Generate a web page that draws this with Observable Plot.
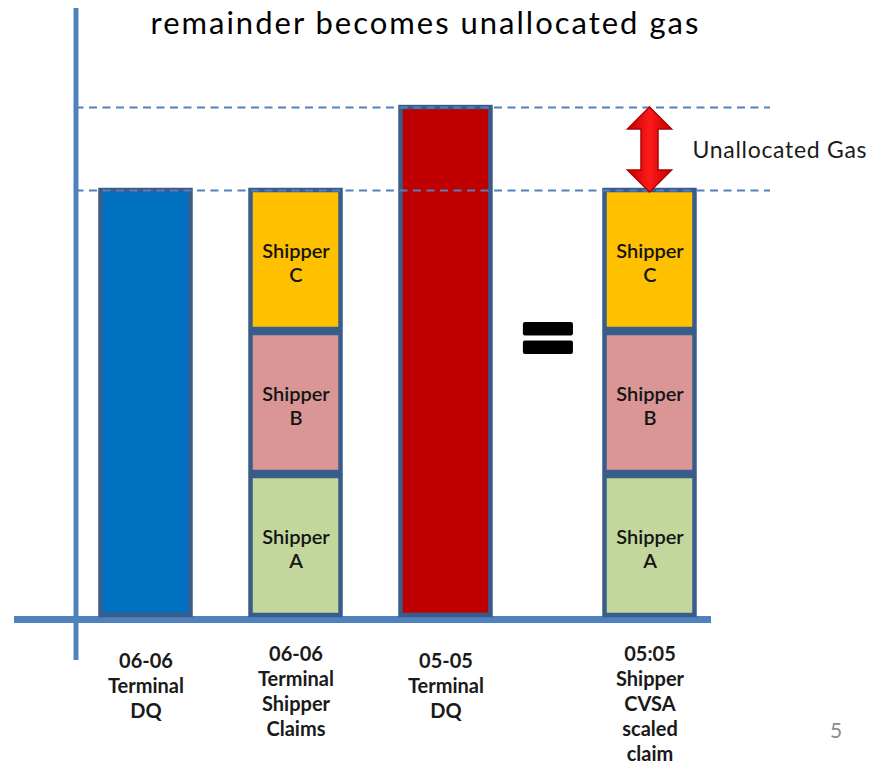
<!DOCTYPE html>
<html>
<head>
<meta charset="utf-8">
<script src="https://cdn.jsdelivr.net/npm/d3@7"></script>
<script src="https://cdn.jsdelivr.net/npm/@observablehq/plot@0.6"></script>
<style>
  body { margin: 0; background: #fff; font-family: Lato, "Open Sans", sans-serif; }
  #wrap { position: relative; width: 878px; height: 764px; overflow: hidden; }
  #wrap svg { position: absolute; left: 0; top: 0; }
  #page { position: absolute; left: 830px; top: 719px; font-size: 21px; line-height: 1; color: #8c8c8c; font-family: Lato, sans-serif; }
</style>
</head>
<body>
<div id="wrap"><div id="page">5</div></div>
<script>
// ---------------- data ----------------
const titleText = "remainder becomes unallocated gas";
const categories = [
  "06-06 Terminal DQ",
  "06-06 Terminal Shipper Claims",
  "05-05 Terminal DQ",
  "05:05 Shipper CVSA scaled claim"
];
const shippers = ["Shipper A", "Shipper B", "Shipper C"];
const terminalDQ0606 = 300;                // bar 1
const shipperClaims0606 = [100, 100, 100]; // bar 2 (A, B, C)
const terminalDQ0505 = 358;                // bar 3
const scaledClaims0505 = [100, 100, 100];  // bar 4 (A, B, C)
const annotationText = "Unallocated Gas";
const equalsText = "=";

// ---------------- styles / layout ----------------
const colDQ0606 = "#0070C0";
const colDQ0505 = "#C00000";
const shipperColors = ["#C3D69B", "#D99694", "#FFC000"];
const outline = "#385D8A";
const axisColor = "#4F81BD";

const W = 878, H = 764;
const mTop = 8, mBottom = 104, mLeft = 14, mRight = 167;
const pxPerSlot = 150, firstBarPx = 145.5;
const pxPerUnit = 1.43, zeroPx = 619;
const gapExtra = 0.36;                // extra room for the "=" sign
const slotOf = i => i + (i === 3 ? gapExtra : 0);
const halfW = 0.3;
const yAxisSlot = (75.5 - firstBarPx) / pxPerSlot;
const dashEndSlot = (770 - firstBarPx) / pxPerSlot;

const xDomain = [(mLeft - firstBarPx) / pxPerSlot, (W - mRight - firstBarPx) / pxPerSlot];
const yDomain = [(zeroPx - (H - mBottom)) / pxPerUnit, (zeroPx - mTop) / pxPerUnit];

// ---------------- build rows ----------------
const rows = [];
rows.push({slot: slotOf(0), y1: 0, y2: terminalDQ0606, fill: colDQ0606});
function pushStack(i, vals) {
  const cum = d3.cumsum(vals);
  vals.forEach((v, k) => rows.push({
    slot: slotOf(i), y1: cum[k] - v, y2: cum[k], fill: shipperColors[k],
    label: shippers[k].replace(" ", "\n")
  }));
}
pushStack(1, shipperClaims0606);
rows.push({slot: slotOf(2), y1: 0, y2: terminalDQ0505, fill: colDQ0505});
pushStack(3, scaledClaims0505);

const catRows = categories.map((c, i) => ({slot: slotOf(i), text: c.split(" ").join("\n"), n: c.split(" ").length}));

// double arrow for unallocated gas, drawn through Plot's scales
function doubleArrow(index, scales) {
  const cx = scales.x(slotOf(3));
  const yt = scales.y(terminalDQ0505);
  const yb = scales.y(d3.sum(scaledClaims0505)) + 2;
  const hw = 22, hh = 22, sw = 8.5;
  const p = `M${cx},${yt} L${cx + hw},${yt + hh} L${cx + sw},${yt + hh} L${cx + sw},${yb - hh} L${cx + hw},${yb - hh} L${cx},${yb} L${cx - hw},${yb - hh} L${cx - sw},${yb - hh} L${cx - sw},${yt + hh} L${cx - hw},${yt + hh} Z`;
  const g = d3.create("svg:g");
  const grad = g.append("defs").append("linearGradient").attr("id", "arrowGrad")
    .attr("x1", "0").attr("x2", "1").attr("y1", "0").attr("y2", "0");
  grad.append("stop").attr("offset", "0%").attr("stop-color", "#C00000");
  grad.append("stop").attr("offset", "50%").attr("stop-color", "#FF1A1A");
  grad.append("stop").attr("offset", "100%").attr("stop-color", "#C00000");
  g.append("path").attr("d", p).attr("fill", "url(#arrowGrad)")
    .attr("stroke", "#B00000").attr("stroke-width", 1.5).attr("stroke-linejoin", "miter");
  return g.node();
}

const chart = Plot.plot({
  width: W, height: H,
  marginTop: mTop, marginBottom: mBottom, marginLeft: mLeft, marginRight: mRight,
  style: {fontFamily: "Lato, 'Open Sans', sans-serif", background: "transparent", overflow: "visible"},
  x: {type: "linear", domain: xDomain, axis: null},
  y: {type: "linear", domain: yDomain, axis: null},
  color: {type: "identity"},
  marks: [
    // axes
    Plot.ruleX([yAxisSlot], {stroke: axisColor, strokeWidth: 5}),
    Plot.ruleY([0], {stroke: axisColor, strokeWidth: 7}),
    // bars
    Plot.rect(rows, {
      x1: d => d.slot - halfW, x2: d => d.slot + halfW, y1: "y1", y2: "y2",
      fill: "fill", stroke: outline, strokeWidth: 4.5, insetBottom: 4
    }),
    // segment labels
    Plot.text(rows.filter(d => d.label), {
      x: "slot", y: d => (d.y1 + d.y2) / 2, text: "label",
      fontSize: 20, fontWeight: 600, lineHeight: 1.2, fill: "#141414"
    }),
    // dashed guide lines
    Plot.ruleY([terminalDQ0606, terminalDQ0505], {
      x1: yAxisSlot, x2: dashEndSlot, stroke: axisColor, strokeWidth: 2, strokeDasharray: "8,5.5"
    }),
    // arrow
    doubleArrow,
    // annotation
    Plot.text([{s: slotOf(3), v: (terminalDQ0505 + d3.sum(scaledClaims0505)) / 2}], {
      x: "s", y: "v", text: () => annotationText, textAnchor: "start", dx: 42.5, dy: 2,
      fontSize: 23, fill: "#1a1a1a"
    }),
    // equals sign
    Plot.text([{s: (slotOf(2) + slotOf(3)) / 2}], {
      x: "s", frameAnchor: "middle", text: () => equalsText, fontSize: 104, fontWeight: "bold",
      fill: "#000", stroke: "#000", strokeWidth: 4, strokeLinejoin: "round", dy: 5
    }),
    // category labels
    Plot.text(catRows.filter(d => d.n <= 3), {
      x: "slot", y: () => 0, text: "text", lineAnchor: "top", dy: 31,
      fontSize: 20, fontWeight: "bold", lineHeight: 25 / 20, fill: "#1a1a1a"
    }),
    Plot.text(catRows.filter(d => d.n > 3), {
      x: "slot", y: () => 0, text: "text", lineAnchor: "top", dy: 24,
      fontSize: 20, fontWeight: "bold", lineHeight: 25 / 20, fill: "#1a1a1a"
    }),
    // title
    Plot.text([titleText], {
      frameAnchor: "top-left", textAnchor: "start", lineAnchor: "top", dx: 136, dy: 3,
      fontSize: 31, fill: "#000"
    })
  ]
});
// widen letter spacing to match the reference's wider typeface
d3.select(chart).selectAll("text").each(function() {
  if (this.textContent === titleText) this.setAttribute("letter-spacing", "2px");
  if (this.textContent === annotationText) this.setAttribute("letter-spacing", "0.7px");
});
document.getElementById("wrap").prepend(chart);
</script>
</body>
</html>
